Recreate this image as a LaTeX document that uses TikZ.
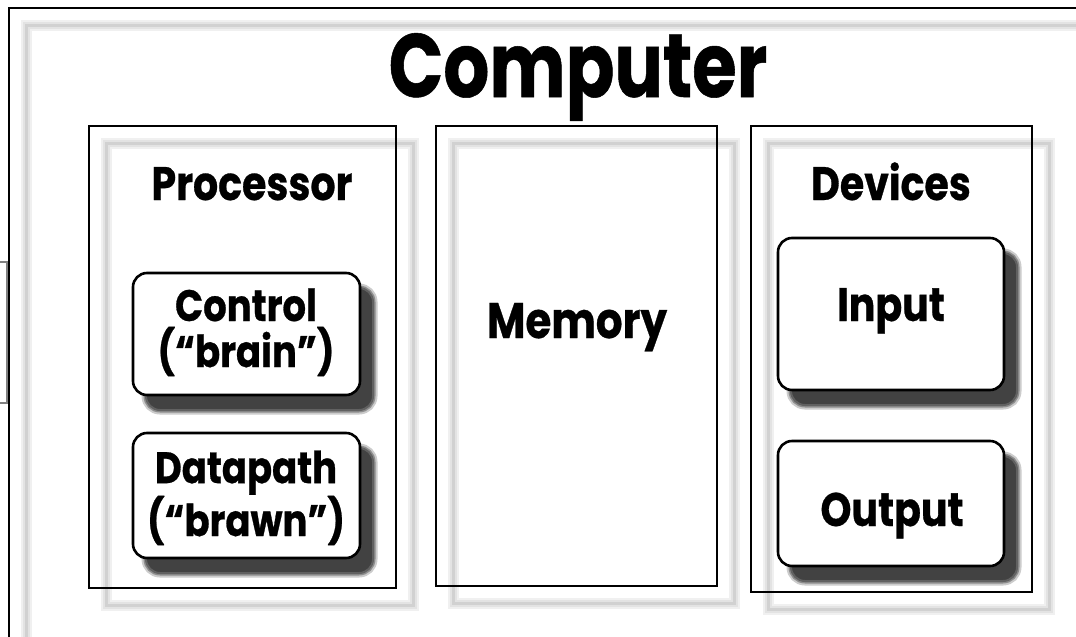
\documentclass[tikz,border=0pt]{standalone}
\usepackage{fontspec}
\setmainfont{Poppins}[FakeStretch=0.84, BoldFeatures={FakeBold=0.6}]
\usetikzlibrary{positioning}

\tikzset{
  softshade/.style={
    preaction={draw=black!6, line width=11pt, rounded corners=6pt,
      transform canvas={shift={(17pt,-17pt)}}},
    preaction={draw=black!11, line width=7pt, rounded corners=6pt,
      transform canvas={shift={(17pt,-17pt)}}},
    preaction={draw=black!18, line width=3pt, rounded corners=6pt,
      transform canvas={shift={(17pt,-17pt)}}}},
  darkshade/.style={
    preaction={draw=black!20, line width=9pt, rounded corners=15pt,
      transform canvas={shift={(13pt,-15pt)}}},
    preaction={draw=black!45, line width=5pt, rounded corners=14pt,
      transform canvas={shift={(13pt,-15pt)}}},
    preaction={fill=black!74, draw=black!62, line width=2pt, rounded corners=14pt,
      transform canvas={shift={(13pt,-15pt)}}}},
  framebox/.style={draw=black, line width=2pt, inner sep=0pt, softshade},
  unitbox/.style={draw=black, line width=2.6pt, fill=white, rounded corners=14pt,
    inner sep=0pt, darkshade},
  titletext/.style={font=\bfseries\fontsize{90}{90}\selectfont\addfontfeature{FakeStretch=0.8},
    inner sep=0pt, anchor=base},
  headtext/.style={font=\bfseries\fontsize{47}{47}\selectfont, inner sep=0pt, anchor=base},
  unittext/.style={font=\bfseries\fontsize{44}{46}\selectfont, align=center, inner sep=0pt}
}

\begin{document}
\begin{tikzpicture}[x=1pt,y=-1pt]
\useasboundingbox (0,0) rectangle (1076,637);
\clip (0,0) rectangle (1076,637);
\fill[white] (0,0) rectangle (1076,637);

% window edge at the left
\draw[black!50, line width=1.5pt] (-10,262) rectangle (7,403);

% the whole machine
\node[framebox, minimum width=1100, minimum height=660] (computerbox) at (559,338) {};
\node[titletext] (computer) at (578,97) {Computer};

% the three parts
\node[framebox, minimum width=307, minimum height=462] (procbox) at (242.5,357) {};
\node[framebox, minimum width=281, minimum height=460] (membox) at (576.5,356) {};
\node[framebox, minimum width=281, minimum height=466] (devbox) at (891.5,359) {};

\node[headtext] (proclabel) at (252,200) {Processor};
\node[headtext] (devlabel) at (891,200) {Devices};
\node[font=\bfseries\fontsize{50}{50}\selectfont, inner sep=0pt, anchor=base] (memlabel) at (577,338) {Memory};

% units inside
\node[unitbox, minimum width=227, minimum height=122] (ctrl) at (246.5,334) {};
\node[unitbox, minimum width=227, minimum height=125] (dpath) at (246.5,495.5) {};
\node[unitbox, minimum width=226, minimum height=152] (inp) at (891,314) {};
\node[unitbox, minimum width=226, minimum height=125] (outp) at (891,503.5) {};

\node[unittext, anchor=base] (ctrltext) at (246,367) {Control\\(“brain”)};
\node[unittext, anchor=base] (dpathtext) at (246,536) {Datapath\\(“brawn”)};
\node[headtext] (inptext) at (891,321) {Input};
\node[headtext] (outptext) at (892,526) {Output};
\end{tikzpicture}
\end{document}
